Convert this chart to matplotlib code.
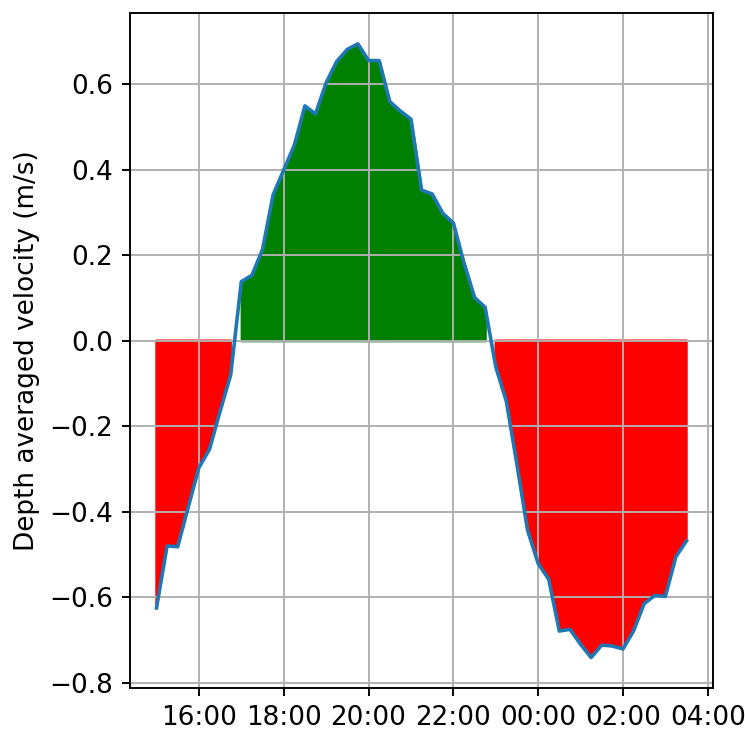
import matplotlib
matplotlib.use("Agg")
import matplotlib.pyplot as plt
import matplotlib.dates as mdates
import numpy as np
import pandas as pd

# 15 minute samples, 15:00 -> 03:30 next day
start_time = "2021-06-01 15:00"
n_samples = 51
velocity = [
    -0.625, -0.480, -0.482, -0.389, -0.297, -0.254, -0.165, -0.080,   # 15:00 - 16:45
    0.138, 0.153, 0.213, 0.341, 0.399, 0.457, 0.549, 0.530,            # 17:00 - 18:45
    0.603, 0.653, 0.681, 0.694, 0.655, 0.655, 0.559, 0.537,            # 19:00 - 20:45
    0.518, 0.352, 0.343, 0.298, 0.275, 0.182, 0.101, 0.078,           # 21:00 - 22:45
    -0.061, -0.142, -0.289, -0.443, -0.521, -0.558, -0.679, -0.675,    # 23:00 - 00:45
    -0.710, -0.741, -0.712, -0.714, -0.721, -0.679, -0.615, -0.596,    # 01:00 - 02:45
    -0.598, -0.505, -0.468,                                            # 03:00 - 03:30
]

times = pd.date_range(start_time, periods=n_samples, freq="15min")
v = np.array(velocity)

plt.rcParams["font.size"] = 11

fig = plt.figure(figsize=(745 / 172, 731 / 172), dpi=172)
# leave just enough room under the axes for the time labels
ax = fig.add_axes([0.1745, 0.0585, 0.7826, 0.9235])

ax.fill_between(times, v, 0, where=v > 0, color="green")
ax.fill_between(times, v, 0, where=v < 0, color="red")
ax.plot(times, v)

ax.xaxis.set_major_locator(mdates.HourLocator(byhour=range(0, 24, 2)))
ax.xaxis.set_major_formatter(mdates.DateFormatter("%H:%M"))
ax.set_ylabel("Depth averaged velocity (m/s)")
ax.grid(True)

fig.savefig("out.png", dpi=172)
